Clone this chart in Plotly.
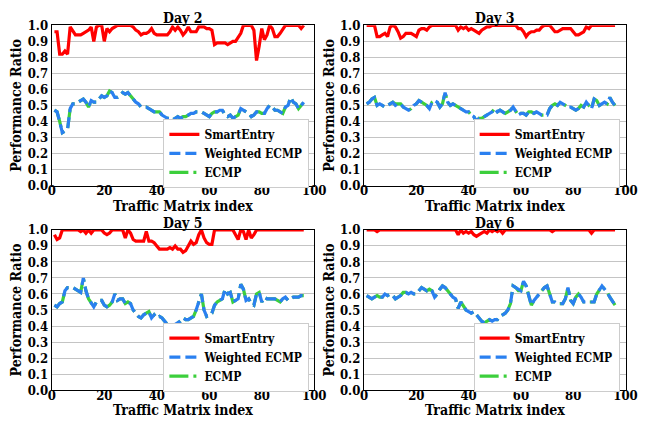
import plotly.graph_objects as go

idx = list(range(1, 97))

day_titles = ["Day 2", "Day 3", "Day 5", "Day 6"]
x_ticks = [0, 20, 40, 60, 80, 100]
y_ticks = [0.0, 0.1, 0.2, 0.3, 0.4, 0.5, 0.6, 0.7, 0.8, 0.9, 1.0]

smart_d2 = [0.96, 0.96, 0.82, 0.82, 0.84, 0.82, 0.99, 0.96, 0.94, 0.94, 0.94, 0.95, 0.96, 0.97, 0.99, 0.90,
            0.99, 1.00, 1.00, 0.90, 0.98, 0.96, 0.98, 0.99, 1.00, 1.00, 1.00, 1.00, 1.00, 1.00, 0.99, 0.97,
            0.96, 0.94, 0.95, 0.95, 0.96, 0.98, 0.95, 0.94, 0.94, 0.94, 0.94, 0.94, 0.96, 0.99, 0.97, 0.99,
            0.97, 0.94, 0.96, 0.99, 0.96, 0.96, 0.96, 0.99, 0.99, 0.99, 0.98, 0.98, 0.97, 0.88, 0.89, 0.89,
            0.89, 0.89, 0.88, 0.89, 0.90, 0.90, 0.93, 0.95, 1.00, 1.00, 1.00, 1.00, 0.97, 0.78, 0.87, 0.98,
            0.91, 0.94, 1.00, 0.98, 0.93, 0.93, 0.95, 0.98, 1.00, 1.00, 1.00, 1.00, 1.00, 1.00, 0.98, 1.00]
wecmp_d2 = [0.47, 0.46, 0.40, 0.33, 0.34, 0.35, 0.48, 0.51, 0.51, 0.52, 0.53, 0.54, 0.52, 0.49, 0.53, 0.52,
            0.52, 0.54, 0.56, 0.55, 0.56, 0.59, 0.58, 0.55, 0.55, 0.56, 0.58, 0.57, 0.58, 0.56, 0.54, 0.52,
            0.51, 0.49, 0.49, 0.49, 0.48, 0.47, 0.46, 0.46, 0.46, 0.44, 0.43, 0.42, 0.42, 0.41, 0.42, 0.43,
            0.42, 0.43, 0.43, 0.44, 0.45, 0.45, 0.46, 0.46, 0.46, 0.45, 0.44, 0.43, 0.45, 0.46, 0.46, 0.47,
            0.47, 0.44, 0.43, 0.44, 0.42, 0.43, 0.44, 0.48, 0.47, 0.46, 0.45, 0.43, 0.44, 0.46, 0.46, 0.45,
            0.45, 0.48, 0.50, 0.49, 0.47, 0.47, 0.46, 0.45, 0.49, 0.50, 0.55, 0.52, 0.51, 0.48, 0.50, 0.52]
ecmp_d2 = [0.47, 0.46, 0.40, 0.33, 0.34, 0.35, 0.48, 0.51, 0.51, 0.52, 0.53, 0.54, 0.52, 0.49, 0.53, 0.52,
           0.52, 0.54, 0.56, 0.55, 0.56, 0.59, 0.58, 0.55, 0.55, 0.56, 0.58, 0.57, 0.58, 0.56, 0.54, 0.52,
           0.51, 0.49, 0.49, 0.49, 0.48, 0.47, 0.46, 0.46, 0.46, 0.44, 0.43, 0.42, 0.42, 0.41, 0.42, 0.43,
           0.42, 0.43, 0.43, 0.44, 0.45, 0.45, 0.46, 0.46, 0.46, 0.45, 0.44, 0.43, 0.45, 0.46, 0.46, 0.47,
           0.47, 0.44, 0.43, 0.44, 0.42, 0.43, 0.44, 0.48, 0.47, 0.46, 0.45, 0.43, 0.44, 0.46, 0.46, 0.45,
           0.45, 0.48, 0.50, 0.49, 0.47, 0.47, 0.46, 0.45, 0.49, 0.50, 0.55, 0.52, 0.51, 0.48, 0.50, 0.52]

smart_d3 = [1.00, 1.00, 1.00, 1.00, 0.93, 0.93, 0.94, 0.95, 0.93, 0.99, 1.00, 0.99, 0.96, 0.92, 0.93, 0.95,
            0.95, 0.95, 0.94, 0.93, 0.97, 0.98, 0.98, 0.97, 0.99, 1.00, 1.00, 1.00, 1.00, 1.00, 1.00, 1.00,
            1.00, 1.00, 1.00, 0.97, 0.99, 0.98, 0.99, 0.97, 0.98, 0.97, 0.96, 0.95, 0.97, 0.98, 0.99, 0.99,
            1.00, 1.00, 1.00, 1.00, 1.00, 1.00, 1.00, 1.00, 1.00, 1.00, 0.98, 0.98, 0.96, 0.93, 0.95, 0.96,
            0.96, 0.97, 0.97, 0.99, 1.00, 1.00, 1.00, 0.98, 0.96, 0.96, 0.97, 0.98, 0.98, 0.98, 0.98, 0.96,
            0.94, 0.94, 0.95, 0.96, 0.99, 0.98, 1.00, 1.00, 1.00, 1.00, 1.00, 1.00, 1.00, 1.00, 1.00, 1.00]
wecmp_d3 = [0.51, 0.52, 0.54, 0.55, 0.50, 0.51, 0.50, 0.49, 0.50, 0.51, 0.52, 0.50, 0.51, 0.51, 0.49, 0.48,
            0.47, 0.48, 0.50, 0.51, 0.53, 0.52, 0.51, 0.50, 0.48, 0.52, 0.53, 0.52, 0.49, 0.51, 0.58, 0.52,
            0.50, 0.51, 0.50, 0.49, 0.48, 0.47, 0.46, 0.46, 0.44, 0.43, 0.40, 0.42, 0.42, 0.43, 0.44, 0.45,
            0.46, 0.48, 0.46, 0.47, 0.46, 0.45, 0.46, 0.47, 0.49, 0.46, 0.44, 0.45, 0.45, 0.44, 0.46, 0.46,
            0.45, 0.46, 0.45, 0.44, 0.44, 0.44, 0.48, 0.50, 0.51, 0.50, 0.52, 0.51, 0.50, 0.49, 0.49, 0.48,
            0.47, 0.48, 0.50, 0.49, 0.52, 0.50, 0.48, 0.54, 0.53, 0.50, 0.51, 0.52, 0.51, 0.55, 0.52, 0.50]
ecmp_d3 = [0.51, 0.52, 0.54, 0.55, 0.50, 0.51, 0.50, 0.49, 0.50, 0.51, 0.52, 0.51, 0.51, 0.51, 0.49, 0.48,
           0.47, 0.48, 0.50, 0.51, 0.53, 0.52, 0.51, 0.50, 0.48, 0.52, 0.53, 0.52, 0.49, 0.51, 0.58, 0.52,
           0.50, 0.51, 0.50, 0.49, 0.48, 0.47, 0.46, 0.46, 0.44, 0.43, 0.40, 0.42, 0.42, 0.43, 0.44, 0.45,
           0.46, 0.48, 0.46, 0.47, 0.46, 0.45, 0.46, 0.47, 0.49, 0.46, 0.44, 0.45, 0.45, 0.44, 0.46, 0.46,
           0.45, 0.46, 0.45, 0.44, 0.44, 0.44, 0.48, 0.50, 0.51, 0.50, 0.52, 0.51, 0.50, 0.49, 0.49, 0.48,
           0.47, 0.48, 0.50, 0.49, 0.52, 0.50, 0.48, 0.54, 0.53, 0.50, 0.51, 0.52, 0.51, 0.55, 0.52, 0.50]

smart_d5 = [0.97, 0.94, 0.95, 1.00, 1.00, 1.00, 1.00, 1.00, 1.00, 1.00, 0.99, 1.00, 0.98, 1.00, 0.98, 1.00,
            1.00, 1.00, 1.00, 0.98, 0.97, 0.98, 1.00, 1.00, 1.00, 1.00, 1.00, 0.95, 1.00, 0.98, 0.94, 0.93,
            0.93, 0.93, 0.93, 0.99, 0.93, 0.93, 0.92, 0.90, 0.88, 0.88, 0.88, 0.88, 0.89, 0.88, 0.90, 0.88,
            0.88, 0.86, 0.87, 0.90, 0.93, 0.91, 0.92, 0.97, 1.00, 0.95, 0.92, 0.91, 0.91, 1.00, 1.00, 1.00,
            1.00, 1.00, 1.00, 1.00, 1.00, 0.97, 0.94, 1.00, 0.99, 0.94, 1.00, 0.95, 0.97, 1.00, 1.00, 1.00,
            1.00, 1.00, 1.00, 1.00, 1.00, 1.00, 1.00, 1.00, 1.00, 1.00, 1.00, 1.00, 1.00, 1.00, 1.00, 1.00]
wecmp_d5 = [0.53, 0.52, 0.54, 0.55, 0.62, 0.64, 0.64, 0.64, 0.63, 0.62, 0.61, 0.70, 0.62, 0.57, 0.54, 0.52,
            0.55, 0.56, 0.56, 0.53, 0.52, 0.53, 0.55, 0.60, 0.56, 0.57, 0.57, 0.54, 0.55, 0.54, 0.50, 0.48,
            0.46, 0.45, 0.47, 0.48, 0.49, 0.45, 0.47, 0.45, 0.46, 0.45, 0.43, 0.41, 0.40, 0.40, 0.41, 0.42,
            0.43, 0.45, 0.44, 0.44, 0.45, 0.46, 0.50, 0.55, 0.60, 0.50, 0.46, 0.47, 0.48, 0.53, 0.55, 0.56,
            0.57, 0.63, 0.60, 0.61, 0.55, 0.56, 0.57, 0.66, 0.63, 0.56, 0.57, 0.54, 0.53, 0.60, 0.61, 0.55,
            0.58, 0.57, 0.57, 0.57, 0.57, 0.56, 0.55, 0.57, 0.58, 0.56, 0.57, 0.58, 0.58, 0.58, 0.59, 0.59]
ecmp_d5 = [0.53, 0.52, 0.54, 0.55, 0.62, 0.64, 0.64, 0.64, 0.63, 0.62, 0.61, 0.70, 0.62, 0.57, 0.54, 0.52,
           0.55, 0.56, 0.56, 0.53, 0.52, 0.53, 0.55, 0.60, 0.56, 0.57, 0.57, 0.54, 0.55, 0.54, 0.50, 0.48,
           0.46, 0.45, 0.47, 0.48, 0.49, 0.45, 0.47, 0.45, 0.46, 0.45, 0.43, 0.41, 0.40, 0.40, 0.41, 0.42,
           0.43, 0.45, 0.44, 0.44, 0.45, 0.46, 0.50, 0.55, 0.60, 0.50, 0.46, 0.47, 0.48, 0.53, 0.55, 0.56,
           0.57, 0.63, 0.60, 0.61, 0.55, 0.56, 0.57, 0.66, 0.63, 0.56, 0.57, 0.54, 0.53, 0.60, 0.61, 0.55,
           0.58, 0.57, 0.57, 0.57, 0.57, 0.56, 0.55, 0.57, 0.58, 0.56, 0.57, 0.58, 0.58, 0.58, 0.59, 0.59]

smart_d6 = [1.00, 1.00, 1.00, 1.00, 0.99, 1.00, 1.00, 1.00, 1.00, 1.00, 1.00, 1.00, 1.00, 1.00, 1.00, 1.00,
            1.00, 1.00, 1.00, 1.00, 1.00, 1.00, 1.00, 1.00, 1.00, 1.00, 1.00, 1.00, 1.00, 1.00, 1.00, 1.00,
            1.00, 1.00, 1.00, 0.97, 1.00, 0.98, 0.99, 0.98, 0.99, 0.97, 0.96, 0.97, 0.98, 0.99, 0.98, 1.00,
            0.99, 1.00, 0.99, 1.00, 0.98, 1.00, 1.00, 1.00, 1.00, 1.00, 1.00, 1.00, 1.00, 1.00, 1.00, 1.00,
            1.00, 1.00, 1.00, 1.00, 1.00, 1.00, 1.00, 0.99, 1.00, 1.00, 1.00, 1.00, 1.00, 1.00, 1.00, 1.00,
            1.00, 1.00, 1.00, 1.00, 1.00, 1.00, 0.98, 1.00, 1.00, 1.00, 1.00, 1.00, 1.00, 1.00, 1.00, 1.00]
wecmp_d6 = [0.59, 0.58, 0.57, 0.58, 0.59, 0.58, 0.58, 0.60, 0.59, 0.60, 0.59, 0.57, 0.58, 0.59, 0.61, 0.61,
            0.60, 0.61, 0.60, 0.60, 0.62, 0.64, 0.63, 0.62, 0.63, 0.62, 0.58, 0.60, 0.63, 0.65, 0.64, 0.62,
            0.60, 0.58, 0.57, 0.51, 0.55, 0.52, 0.50, 0.49, 0.48, 0.49, 0.47, 0.45, 0.43, 0.42, 0.43, 0.44,
            0.43, 0.44, 0.44, 0.46, 0.47, 0.48, 0.50, 0.54, 0.65, 0.64, 0.63, 0.62, 0.68, 0.65, 0.59, 0.53,
            0.56, 0.58, 0.60, 0.62, 0.64, 0.65, 0.60, 0.55, 0.55, 0.54, 0.54, 0.54, 0.57, 0.64, 0.56, 0.54,
            0.58, 0.60, 0.58, 0.55, 0.55, 0.55, 0.55, 0.55, 0.60, 0.63, 0.65, 0.63, 0.61, 0.58, 0.55, 0.53]
ecmp_d6 = [0.59, 0.58, 0.57, 0.58, 0.59, 0.58, 0.58, 0.60, 0.59, 0.60, 0.59, 0.57, 0.58, 0.59, 0.61, 0.61,
           0.60, 0.61, 0.60, 0.60, 0.62, 0.64, 0.63, 0.62, 0.63, 0.62, 0.58, 0.60, 0.63, 0.65, 0.64, 0.62,
           0.60, 0.58, 0.57, 0.51, 0.55, 0.52, 0.50, 0.49, 0.48, 0.49, 0.47, 0.45, 0.43, 0.42, 0.43, 0.44,
           0.43, 0.44, 0.44, 0.46, 0.47, 0.48, 0.50, 0.54, 0.65, 0.64, 0.62, 0.62, 0.68, 0.65, 0.59, 0.53,
           0.56, 0.58, 0.60, 0.62, 0.64, 0.65, 0.60, 0.55, 0.55, 0.54, 0.54, 0.54, 0.57, 0.64, 0.56, 0.54,
           0.58, 0.60, 0.58, 0.55, 0.55, 0.55, 0.55, 0.55, 0.60, 0.63, 0.65, 0.63, 0.61, 0.58, 0.55, 0.53]

smart_all = [smart_d2, smart_d3, smart_d5, smart_d6]
wecmp_all = [wecmp_d2, wecmp_d3, wecmp_d5, wecmp_d6]
ecmp_all = [ecmp_d2, ecmp_d3, ecmp_d5, ecmp_d6]

W, H = 658, 428
# pixel boxes: (left, right, top, bottom)
boxes = [(49, 318, 19, 185), (369, 637, 19, 185), (49, 318, 231, 397), (369, 637, 231, 397)]
# legend anchor: (right edge, top edge) in pixels
legend_pos = [(313, 116), (631, 116), (313, 327), (631, 327)]

COND = "DejaVu Serif Condensed"
RED, BLUE, GREEN = "#ff0000", "#2a80f0", "#3ccf3c"

fig = go.Figure()
layout = dict(
    width=W, height=H, margin=dict(l=0, r=0, t=0, b=0),
    paper_bgcolor="white", plot_bgcolor="white",
    font=dict(family=COND, color="black"),
    annotations=[],
)

for i in range(4):
    xa = "x" if i == 0 else f"x{i+1}"
    ya = "y" if i == 0 else f"y{i+1}"
    lg = "legend" if i == 0 else f"legend{i+1}"
    l, r, t, b = boxes[i]
    fig.add_trace(go.Scatter(x=idx, y=smart_all[i], mode="lines", name="<b>SmartEntry</b>",
                             line=dict(color=RED, width=3.2), xaxis=xa, yaxis=ya, legend=lg,
                             legendrank=1))
    fig.add_trace(go.Scatter(x=idx, y=ecmp_all[i], mode="lines", name="<b>ECMP</b>",
                             line=dict(color=GREEN, width=3.2, dash="19px,5px,3px,5px"),
                             xaxis=xa, yaxis=ya, legend=lg, legendrank=3))
    fig.add_trace(go.Scatter(x=idx, y=wecmp_all[i], mode="lines", name="<b>Weighted ECMP</b>",
                             line=dict(color=BLUE, width=3.2, dash="11px,5px"),
                             xaxis=xa, yaxis=ya, legend=lg, legendrank=2))
    xkey = "xaxis" if i == 0 else f"xaxis{i+1}"
    ykey = "yaxis" if i == 0 else f"yaxis{i+1}"
    layout[xkey] = dict(
        domain=[l / W, r / W], anchor=ya, range=[0, 100], tickvals=x_ticks,
        ticktext=[f"<b>{v}</b>" for v in x_ticks],
        showgrid=False, zeroline=False, showline=True, linecolor="black", linewidth=1.2,
        mirror=True, ticks="", ticklen=0, ticklabelstandoff=-7,
        tickfont=dict(family=COND, size=13, color="black"),
    )
    layout[ykey] = dict(
        domain=[1 - b / H, 1 - t / H], anchor=xa, range=[0, 1.0], tickvals=y_ticks,
        ticktext=[f"<b>{v:.1f}</b>" for v in y_ticks],
        showgrid=True, gridcolor="#c4c4c4", gridwidth=1,
        zeroline=False, showline=True, linecolor="black", linewidth=1.2,
        mirror=True, ticks="", ticklen=0,
        tickfont=dict(family=COND, size=13, color="black"),
        title=dict(text="<b>Performance Ratio</b>", standoff=2,
                   font=dict(family=COND, size=14, color="black")),
    )
    lx, ly = legend_pos[i]
    layout[lg] = dict(
        x=lx / W, y=1 - ly / H, xanchor="right", yanchor="top",
        bgcolor="white", bordercolor="#cccccc", borderwidth=1,
        font=dict(family=COND, size=12, color="black"),
        tracegroupgap=0, itemwidth=30,
    )
    layout["annotations"].append(dict(
        text=f"<b>{day_titles[i]}</b>", xref="paper", yref="paper",
        x=(l + r) / 2 / W, y=1 - t / H, xanchor="center", yanchor="bottom",
        showarrow=False, yshift=-3,
        font=dict(family=COND, size=14, color="black"),
    ))
    layout["annotations"].append(dict(
        text="<b>Traffic Matrix index</b>", xref="paper", yref="paper",
        x=(l + r) / 2 / W, y=1 - (b + 21) / H, xanchor="center", yanchor="middle",
        showarrow=False,
        font=dict(family=COND, size=14, color="black"),
    ))

fig.update_layout(**layout)
fig.write_html("out.html")
